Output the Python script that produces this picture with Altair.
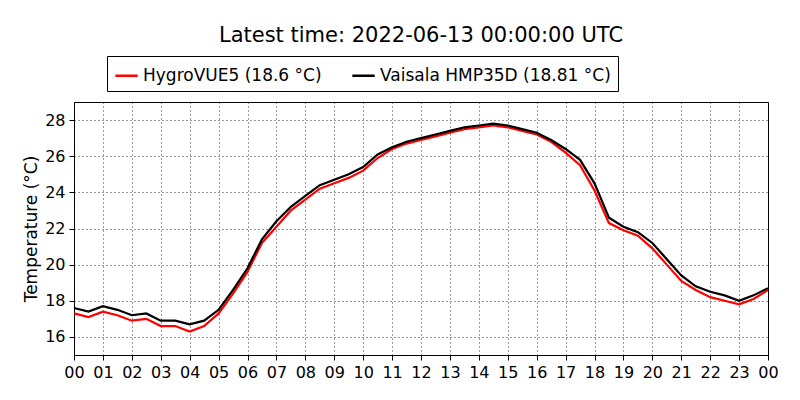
import pandas as pd
import altair as alt

hours = [i * 0.5 for i in range(49)]
vaisala = [17.6, 17.4, 17.7, 17.5, 17.2, 17.3, 16.9, 16.9, 16.7, 16.9,
           17.5, 18.6, 19.8, 21.4, 22.4, 23.2, 23.8, 24.4, 24.7, 25.0,
           25.4, 26.1, 26.5, 26.8, 27.0, 27.2, 27.4, 27.6, 27.7, 27.8,
           27.7, 27.5, 27.3, 26.9, 26.4, 25.8, 24.5, 22.6, 22.1, 21.8,
           21.2, 20.3, 19.4, 18.8, 18.5, 18.3, 18.0, 18.3, 18.7]
hygrovue = [17.3, 17.1, 17.4, 17.2, 16.9, 17.0, 16.6, 16.6, 16.3, 16.6,
            17.3, 18.4, 19.6, 21.2, 22.1, 23.0, 23.6, 24.2, 24.5, 24.8,
            25.2, 25.9, 26.4, 26.7, 26.9, 27.1, 27.3, 27.5, 27.6, 27.7,
            27.6, 27.4, 27.2, 26.8, 26.2, 25.5, 24.1, 22.3, 21.9, 21.6,
            20.9, 20.0, 19.1, 18.6, 18.2, 18.0, 17.8, 18.1, 18.6]
names = ["HygroVUE5 (18.6 °C)", "Vaisala HMP35D (18.81 °C)"]

df = pd.concat([
    pd.DataFrame({"hour": hours, "temp": hygrovue, "sensor": names[0]}),
    pd.DataFrame({"hour": hours, "temp": vaisala, "sensor": names[1]}),
])

font = "DejaVu Sans"
chart = alt.Chart(df).mark_line(strokeWidth=2.2).encode(
    x=alt.X("hour:Q", title=None, scale=alt.Scale(domain=[0, 24], nice=False),
            axis=alt.Axis(values=list(range(25)), labelOverlap=False, labelFlush=False,
                          labelExpr="datum.value==24 ? '00' : (datum.value<10 ? '0'+datum.value : ''+datum.value)")),
    y=alt.Y("temp:Q", title="Temperature (°C)", scale=alt.Scale(domain=[15, 29], nice=False),
            axis=alt.Axis(values=[16, 18, 20, 22, 24, 26, 28])),
    color=alt.Color("sensor:N", scale=alt.Scale(domain=names, range=["red", "black"]),
                    legend=alt.Legend(title=None, orient="none", legendX=33, legendY=-46,
                                      direction="horizontal", symbolType="stroke",
                                      symbolStrokeWidth=2.5, symbolSize=500, labelLimit=0,
                                      labelFontSize=17, labelFont=font, columnPadding=25,
                                      strokeColor="black", padding=7, fillColor="white")),
).properties(
    width=694, height=253,
    title=alt.TitleParams("Latest time: 2022-06-13 00:00:00 UTC", fontSize=21,
                          font=font, fontWeight="normal", offset=10),
    autosize=alt.AutoSizeParams(type="none"),
    padding={"left": 66, "top": 94, "right": 24, "bottom": 37},
).configure_axis(
    gridColor="black", gridDash=[1, 3], gridOpacity=0.8, domainColor="black",
    tickColor="black", labelFont=font, labelFontSize=16, labelColor="black",
    titleFont=font, titleFontSize=17, titleFontWeight="normal", labelPadding=4,
).configure_view(stroke="black", strokeWidth=1)

chart.save("out.html", embed_options={"renderer": "svg", "actions": False})
